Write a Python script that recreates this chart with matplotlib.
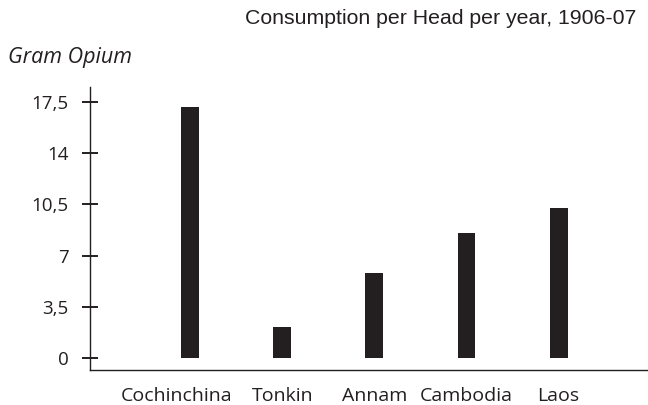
import matplotlib
matplotlib.use("Agg")
import matplotlib.pyplot as plt
import matplotlib.transforms as mtransforms
import numpy as np

# Opium consumption per head, 1906-07 (gram)
regions = ["Cochinchina", "Tonkin", "Annam", "Cambodia", "Laos"]
grams = [17.2, 2.1, 5.8, 8.55, 10.25]
yticks = [0, 3.5, 7, 10.5, 14, 17.5]
ytick_labels = ["0", "3,5", "7", "10,5", "14", "17,5"]

ink = "#231f20"

fig = plt.figure(figsize=(6.48, 4.05), dpi=100)
ax = fig.add_axes([90 / 648, 1 - 370 / 405, 1 - 90 / 648, (370 - 86.7) / 405])

x = np.arange(len(regions))
ax.bar(x, grams, width=0.195, color=ink)

ax.set_xlim(-1.088, 4.971)
ax.set_ylim(-0.84, 18.57)

for side in ["top", "right"]:
    ax.spines[side].set_visible(False)
for side in ["left", "bottom"]:
    ax.spines[side].set_color(ink)
    ax.spines[side].set_linewidth(1.0)

ax.set_yticks(yticks)
ax.set_yticklabels(ytick_labels, fontfamily="Open Sans", fontsize=13.5, color=ink)
ax.tick_params(axis="y", direction="inout", length=12, width=1.4, color=ink, pad=9.5)

ax.set_xticks(x)
ax.set_xticklabels(regions, fontfamily="Open Sans", fontsize=14, color=ink)
ax.tick_params(axis="x", length=0, pad=12)

# first label sits a little left of its bar in the original
lab = ax.get_xticklabels()[0]
lab.set_transform(lab.get_transform() + mtransforms.ScaledTranslation(-14 / 100, 0, fig.dpi_scale_trans))

fig.text(8 / 648, 1 - 57 / 405, "Gram Opium", fontfamily="Open Sans", style="italic",
         fontsize=15.5, color=ink, ha="left", va="center")
fig.text(636 / 648, 1 - 19 / 405, "Consumption per Head per year, 1906-07",
         fontfamily="Liberation Sans", fontsize=15.3, color=ink, ha="right", va="center")

fig.savefig("out.png", dpi=100)
